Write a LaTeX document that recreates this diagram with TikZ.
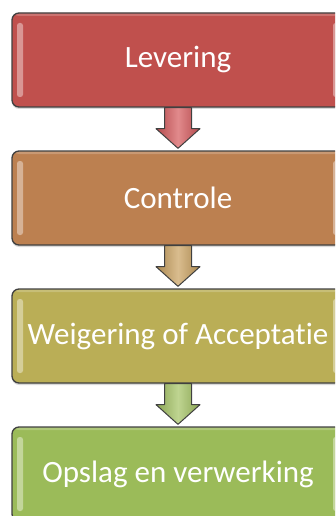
\documentclass[tikz,border=0pt]{standalone}
\usepackage{fontspec}
\setmainfont[Ligatures=NoCommon]{Carlito}
\usepackage{tikz}
\usetikzlibrary{calc,backgrounds,positioning,shadows}

\definecolor{rand}{HTML}{404040}
\definecolor{levering}{HTML}{C0504D}
\definecolor{controle}{HTML}{BC8050}
\definecolor{keuring}{HTML}{BAAE56}
\definecolor{opslag}{HTML}{9BBB59}
\definecolor{pijlA}{HTML}{D4575A}
\definecolor{pijlB}{HTML}{C9A05E}
\definecolor{pijlC}{HTML}{A3C262}

\tikzset{
	stap/.style={draw=rand, line width=1.3pt, rounded corners=7pt,
		minimum width=332pt, minimum height=94pt, text=white,
		font=\fontsize{31}{36}\selectfont,
		drop shadow={shadow xshift=0pt, shadow yshift=-2pt, opacity=.3},
		path picture={
			\fill[white, opacity=.4, rounded corners=2.5pt]
				([shift={(5pt,-10pt)}]path picture bounding box.north west) rectangle
				([shift={(11pt,10pt)}]path picture bounding box.south west);
			\fill[white, opacity=.4, rounded corners=2.5pt]
				([shift={(-11pt,-10pt)}]path picture bounding box.north east) rectangle
				([shift={(-5pt,10pt)}]path picture bounding box.south east);
			\fill[white, opacity=.2]
				(path picture bounding box.north west) rectangle
				([yshift=-3pt]path picture bounding box.north east);
		}},
}

\newcommand{\pijl}[3]{%
	\path[left color=#3!85!black, right color=#3!85!black, middle color=#3!70!white,
		draw=rand, line width=1pt, line join=round]
		($(#1.south)+(-13.5pt,0)$) -- ++(0,-21pt) -- ++(-8.5pt,0)
		-- ($(#2.north)+(0,2pt)$)
		-- ($(#1.south)+(22pt,-21pt)$) -- ++(-8.5pt,0) -- ++(0,21pt) -- cycle;
}

\begin{document}
\begin{tikzpicture}[node distance=138pt]
	\clip (0,0) rectangle (335pt,-516pt);
	  \node[stap, fill=levering] (A) at (178pt,-60pt) {Levering};
	  \node[stap, fill=controle] (B) [below of=A] {Controle};
	  \node[stap, fill=keuring]  (C) [below of=B] {Weigering of Acceptatie};
	  \node[stap, fill=opslag]   (D) [below of=C] {Opslag en verwerking};
	\pijl{A}{B}{pijlA}
	\pijl{B}{C}{pijlB}
	\pijl{C}{D}{pijlC}
	\end{tikzpicture}
\end{document}
